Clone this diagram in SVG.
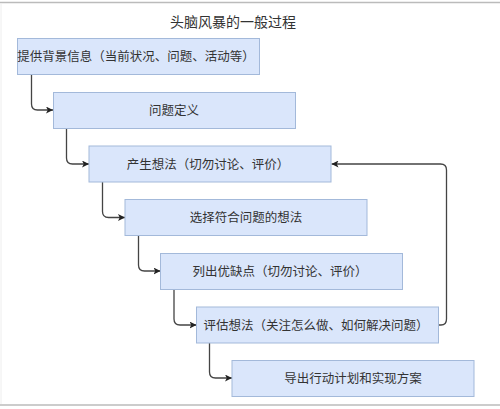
<svg xmlns="http://www.w3.org/2000/svg" width="500" height="409" viewBox="0 0 500 409">
<style>
.box{fill:#dae6fb;stroke:#a3b9da;stroke-width:1}
.lbl{font-family:"Noto Sans CJK SC","Liberation Sans",sans-serif;font-size:12.5px;fill:#333;text-anchor:middle}
.title{font-family:"Noto Sans CJK SC","Liberation Sans",sans-serif;font-size:14px;fill:#333;text-anchor:middle}
.con{fill:none;stroke:#444;stroke-width:1.3;marker-end:url(#arr)}
</style>
<defs>
<marker id="arr" viewBox="0 0 10 10" refX="10" refY="5" markerWidth="7" markerHeight="7" markerUnits="userSpaceOnUse" orient="auto">
<path d="M0,0 L10,5 L0,10 L2.5,5 Z" fill="#222"/>
</marker>
</defs>
<rect x="0" y="0" width="500" height="409" fill="#fff"/>
<line x1="0" y1="2.5" x2="500" y2="2.5" stroke="#bbb" stroke-width="1.5"/>
<line x1="0" y1="405" x2="500" y2="405" stroke="#bbb" stroke-width="1.5"/>
<line x1="1" y1="3" x2="1" y2="404" stroke="#eee" stroke-width="1"/>
<text class="title" x="233" y="27">头脑风暴的一般过程</text>
<g id="connectors">
<path class="con" d="M31.5,74.5 V104 Q31.5,110 37.5,110 H53"/>
<path class="con" d="M66.5,128.5 V158 Q66.5,164 72.5,164 H89"/>
<path class="con" d="M102.5,182 V211.5 Q102.5,217.5 108.5,217.5 H125"/>
<path class="con" d="M138.5,235.5 V265 Q138.5,271 144.5,271 H160.5"/>
<path class="con" d="M174,289.5 V319 Q174,325 180,325 H196.5"/>
<path class="con" d="M209.5,342.5 V372 Q209.5,378 215.5,378 H232"/>
<path class="con" d="M438.5,325 H441 Q446.5,325 446.5,319 V170 Q446.5,164 440.5,164 H331.5"/>
</g>
<g id="n1"><rect class="box" x="17.5" y="38.5" width="242" height="36"/><text class="lbl" x="136" y="61">提供背景信息（当前状况、问题、活动等）</text></g>
<g id="n2"><rect class="box" x="53.5" y="92.5" width="242" height="36"/><text class="lbl" x="174" y="115">问题定义</text></g>
<g id="n3"><rect class="box" x="89" y="146" width="242" height="36"/><text class="lbl" x="208" y="168.5">产生想法（切勿讨论、评价）</text></g>
<g id="n4"><rect class="box" x="125" y="199.5" width="242" height="36"/><text class="lbl" x="246" y="222">选择符合问题的想法</text></g>
<g id="n5"><rect class="box" x="160.5" y="253.5" width="242" height="36"/><text class="lbl" x="280" y="276">列出优缺点（切勿讨论、评价）</text></g>
<g id="n6"><rect class="box" x="196.5" y="307" width="242" height="36"/><text class="lbl" x="316" y="329.5">评估想法（关注怎么做、如何解决问题）</text></g>
<g id="n7"><rect class="box" x="232" y="360.5" width="242" height="36"/><text class="lbl" x="353" y="383">导出行动计划和实现方案</text></g>
</svg>
